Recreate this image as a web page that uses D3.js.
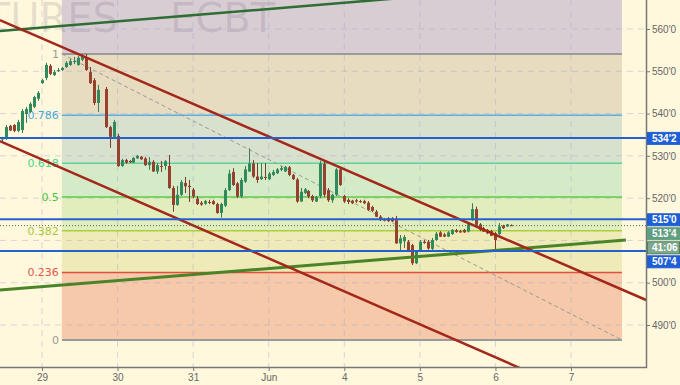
<!DOCTYPE html>
<meta charset='utf-8'>
<style>
    body { margin: 0; background: #fff8dc; }
    svg { display: block; }
    .axis text { font: 10px 'Liberation Sans', Arial, sans-serif; fill: #666; }
    .axis line { stroke: #777; }
    .fib-label { font: 11px 'DejaVu Sans', sans-serif; text-anchor: end; }
    .tag text { font: bold 10px 'Liberation Sans', Arial, sans-serif; fill: #fff; }
</style>
<body>
<script src='https://d3js.org/d3.v7.min.js'></script>
<script>
// x axis: bar number of each day start, 19 hourly bars a day
const dayLabels = [ '29', '30', '31', 'Jun', '4', '5', '6', '7' ];
const dayBars = [ 10, 29, 48, 67, 86, 105, 124, 143 ];
const priceTicks = [ 560, 550, 540, 530, 520, 510, 500, 490 ];

// hourly candles [open, high, low, close], bar 0 at the left edge
const candles = [
    [534.0,534.5,533.3,534.1],[534.2,537.3,533.8,536.8],[537.1,537.3,535.9,536.0],[537.3,537.5,535.6,535.9],
    [535.9,538.5,535.6,538.0],[536.1,541.1,535.4,540.6],[539.9,541.6,537.8,541.1],[540.4,542.7,540.1,542.3],
    [541.6,544.2,541.3,543.9],[543.5,545.3,543.0,544.9],
    [547.2,548.2,547.0,547.9],[548.4,552.0,547.9,551.5],[551.3,551.7,549.1,549.4],[549.1,550.3,548.9,549.8],
    [550.1,550.8,549.8,550.3],[550.3,551.0,550.1,550.8],[551.0,552.4,550.8,552.0],[551.5,552.9,551.3,552.4],
    [552.2,553.4,551.7,552.4],[551.5,553.6,551.3,553.2],
    [552.7,554.1,552.4,553.4],[553.2,554.1,550.1,550.3],[549.8,551.0,547.0,547.2],[547.9,548.4,542.0,542.5],
    [542.5,546.8,540.4,545.6],null,[545.8,546.3,536.6,536.8],[536.8,537.1,531.9,534.5],
    [534.5,538.5,534.2,538.0],[534.7,535.2,527.4,527.6],
    [527.6,529.3,527.4,529.0],[529.0,529.3,528.1,528.4],[528.8,529.0,528.3,528.5],[528.4,529.7,528.3,529.5],
    [529.4,530.2,529.3,530.0],[529.8,530.0,529.0,529.2],[529.4,529.7,527.6,527.8],[527.8,529.7,526.7,528.6],
    [528.6,529.0,526.2,526.3],[526.3,528.3,525.7,527.8],
    [527.6,528.8,526.2,527.5],[527.6,529.0,526.7,528.7],[527.6,530.2,522.2,522.4],[522.4,522.9,516.8,518.4],
    [518.4,522.9,518.2,520.8],[520.8,524.3,520.5,523.8],[523.6,525.0,521.2,522.8],[522.9,524.3,519.1,522.6],
    [522.0,522.4,520.0,520.4],[519.9,520.5,518.4,518.6],
    [518.9,519.3,518.2,518.5],[518.7,519.6,518.4,519.3],[519.1,519.6,518.6,518.9],[519.3,519.6,518.4,518.6],
    [518.6,518.9,516.3,516.5],[516.5,518.9,515.4,518.6],[518.2,522.4,517.9,521.9],[521.9,526.7,521.7,525.8],
    [526.2,527.1,522.9,523.1],[523.5,523.8,520.0,520.4],
    [520.4,524.8,520.0,524.3],[523.9,527.6,523.6,526.8],[526.3,531.8,526.2,528.2],[528.2,529.0,524.8,525.1],
    [525.1,528.3,523.6,524.3],[524.5,528.3,524.3,525.1],[525.0,528.3,524.3,524.8],[524.5,526.2,524.3,525.8],
    [525.5,526.7,525.2,526.2],[525.9,527.1,525.7,526.8],
    [526.7,527.6,526.4,527.1],[526.3,527.6,526.2,527.4],[527.3,527.6,525.2,525.5],[525.5,525.7,524.3,524.5],
    [524.4,524.8,518.9,519.2],[519.2,522.4,519.1,521.5],[521.2,522.4,521.0,522.1],[521.7,521.9,520.0,520.4],
    [520.5,520.8,519.1,519.5],[519.2,520.5,519.1,520.3],
    [520.5,528.8,520.0,528.2],[528.1,528.6,520.3,520.8],[521.9,522.4,519.1,519.5],[519.5,521.0,518.9,520.8],
    [520.8,527.1,520.5,526.8],[526.8,527.1,522.9,523.1],[520.5,520.8,518.9,519.2],[519.6,520.0,518.6,519.1],
    [519.4,519.6,518.6,518.8],[519.5,519.8,518.9,519.2],
    [519.3,519.6,518.9,519.1],[519.3,519.6,518.6,518.8],[518.9,519.3,517.0,517.2],[517.9,518.2,516.7,517.0],
    [516.8,517.2,515.5,515.6],[515.6,516.0,514.6,514.8],[515.0,515.3,514.5,514.7],[515.3,515.5,514.4,514.6],
    [515.2,515.5,514.4,514.5],[514.8,515.8,509.2,509.3],
    [509.3,511.3,507.3,510.5],[509.8,511.3,508.2,510.8],[509.7,510.1,507.5,507.7],[508.9,509.2,504.2,504.6],
    [504.6,507.7,504.4,507.5],[507.7,510.1,507.5,509.7],[509.7,510.1,509.2,509.4],[509.7,510.1,507.8,508.1],
    [508.0,510.6,507.7,510.1],[510.1,512.0,509.9,511.6],
    [511.9,512.2,510.8,510.9],[511.4,511.8,510.8,510.9],[510.9,512.2,510.8,511.9],[511.5,512.7,511.3,512.5],
    [512.4,512.7,511.8,512.0],[512.2,512.5,511.8,511.9],[512.5,512.7,511.8,511.9],[512.1,514.4,511.9,513.8],
    [514.8,518.8,514.6,517.4],[517.4,518.0,513.4,513.7],
    [513.8,514.1,512.2,512.5],[512.9,513.2,512.0,512.1],[512.5,512.7,511.5,511.7],[512.2,512.5,511.0,511.1],
    [511.7,512.0,507.7,510.1],[511.5,514.1,511.3,513.3],[513.5,513.7,512.7,512.9],[513.3,513.9,513.2,513.8],
    [513.6,513.8,513.4,513.5]
];

// fibonacci retracement: anchors [bar, price]
const fibStart = [ 15.0, 554.1 ];
const fibEnd = [ 155.8, 486.45 ];
const fibLevels = [ 1, 0.786, 0.618, 0.5, 0.382, 0.236, 0 ];
const fibLabels = [ '1', '0.786', '0.618', '0.5', '0.382', '0.236', '0' ];
const fibLineColors = [ '#9a9a9a', '#5ab0e0', '#5fd29a', '#5ccb48', '#a9cf3e', '#e0503c', '#9a9a9a' ];
const fibTextColors = [ '#999', '#49a7df', '#3fd58b', '#45c83a', '#a6c93a', '#e2584a', '#999' ];
// zone above each level (first one is above level 1)
const fibZoneColors = [ '#d8cdd3', '#e8dcc0', '#d8e1cd', '#d5ebc7', '#e1edbc', '#eeebb9', '#f5c9a9' ];

// horizontal levels and last price
const levelPrices = [ 534.25, 515, 507.5 ];
const lastPrice = 513.5;
const countdown = '41:06';

// trend lines [[bar, price], [bar, price]]
const trendLines = [
    { pts: [ [ -0.6, 559.5 ], [ 161.9, 572.1 ] ], color: '#2e6d34', width: 2.5 },
    { pts: [ [ -0.6, 498.3 ], [ 156.8, 510.1 ] ], color: '#4a8427', width: 3 },
    { pts: [ [ -0.6, 562.1 ], [ 161.9, 495.9 ] ], color: '#a3271a', width: 2.5 },
    { pts: [ [ -0.6, 533.5 ], [ 130.2, 479.8 ] ], color: '#a3271a', width: 2.5 }
];

const W = 680, H = 385, plotW = 646, plotH = 367;

const x = d3.scaleLinear().domain( [ 10, 143 ] ).range( [ 42, 571 ] );
const y = d3.scaleLinear().domain( [ 490, 560 ] ).range( [ 325, 29 ] );

const fmtPrice = p => Math.floor( p ) + "'" + Math.round( ( p - Math.floor( p ) ) * 8 );

const svg = d3.select( 'body' ).append( 'svg' )
    .attr( 'width', W )
    .attr( 'height', H );

svg.append( 'rect' ).attr( 'width', W ).attr( 'height', H ).attr( 'fill', '#fff8dc' );

svg.append( 'clipPath' ).attr( 'id', 'plot' )
    .append( 'rect' ).attr( 'width', plotW ).attr( 'height', plotH );

const plot = svg.append( 'g' ).attr( 'clip-path', 'url(#plot)' );

// Fib zones
const fibPrice = l => fibEnd[ 1 ] + l * ( fibStart[ 1 ] - fibEnd[ 1 ] );
const fx0 = x( fibStart[ 0 ] ), fx1 = x( fibEnd[ 0 ] );
plot.selectAll( '.zone' )
    .data( fibLevels )
    .enter().append( 'rect' )
        .attr( 'class', 'zone' )
        .attr( 'x', fx0 )
        .attr( 'width', fx1 - fx0 )
        .attr( 'y', ( d, i ) => i === 0 ? -10 : y( fibPrice( fibLevels[ i - 1 ] ) ) )
        .attr( 'height', ( d, i ) => y( fibPrice( d ) ) - ( i === 0 ? -10 : y( fibPrice( fibLevels[ i - 1 ] ) ) ) )
        .attr( 'fill', ( d, i ) => fibZoneColors[ i ] );

// Watermark
plot.append( 'text' )
    .attr( 'x', 118 ).attr( 'y', 32 )
    .attr( 'text-anchor', 'end' )
    .style( 'font', '40px "DejaVu Sans", sans-serif' )
    .attr( 'fill', '#5a5070' ).attr( 'fill-opacity', 0.16 )
    .text( 'FUTURES' );
plot.append( 'text' )
    .attr( 'x', 170 ).attr( 'y', 32 )
    .style( 'font', '40px "DejaVu Sans", sans-serif' )
    .attr( 'fill', '#5a5070' ).attr( 'fill-opacity', 0.16 )
    .text( 'ECBT' );

// Grid
plot.selectAll( '.hgrid' )
    .data( priceTicks )
    .enter().append( 'line' )
        .attr( 'x1', 0 ).attr( 'x2', plotW )
        .attr( 'y1', d => y( d ) ).attr( 'y2', d => y( d ) )
        .attr( 'stroke', '#a8a8d0' ).attr( 'stroke-opacity', 0.45 )
        .attr( 'stroke-dasharray', '6,5' );
plot.selectAll( '.vgrid' )
    .data( dayBars )
    .enter().append( 'line' )
        .attr( 'x1', d => x( d ) ).attr( 'x2', d => x( d ) )
        .attr( 'y1', 0 ).attr( 'y2', plotH )
        .attr( 'stroke', '#a8a8d0' ).attr( 'stroke-opacity', 0.45 )
        .attr( 'stroke-dasharray', '6,5' );

// Fib lines
plot.selectAll( '.fib' )
    .data( fibLevels )
    .enter().append( 'line' )
        .attr( 'x1', fx0 ).attr( 'x2', fx1 )
        .attr( 'y1', d => y( fibPrice( d ) ) ).attr( 'y2', d => y( fibPrice( d ) ) )
        .attr( 'stroke', ( d, i ) => fibLineColors[ i ] )
        .attr( 'stroke-width', ( d, i ) => ( i === 0 || i === 6 ) ? 2 : 1.5 );

plot.selectAll( '.fib-label' )
    .data( fibLevels )
    .enter().append( 'text' )
        .attr( 'class', 'fib-label' )
        .attr( 'x', fx0 - 3 )
        .attr( 'y', d => y( fibPrice( d ) ) )
        .attr( 'dy', '0.36em' )
        .attr( 'fill', ( d, i ) => fibTextColors[ i ] )
        .text( ( d, i ) => fibLabels[ i ] );

plot.append( 'line' )
    .attr( 'x1', x( fibStart[ 0 ] ) ).attr( 'y1', y( fibStart[ 1 ] ) )
    .attr( 'x2', x( fibEnd[ 0 ] ) ).attr( 'y2', y( fibEnd[ 1 ] ) )
    .attr( 'stroke', '#999' ).attr( 'stroke-dasharray', '4,3' );

// Candles
const bars = candles.map( ( c, i ) => c && { i, o: c[ 0 ], h: c[ 1 ], l: c[ 2 ], c: c[ 3 ] } ).filter( d => d );
const up = '#2f8a5c', down = '#98402e';

const candle = plot.selectAll( '.candle' )
    .data( bars )
    .enter().append( 'g' )
        .attr( 'class', 'candle' );

candle.append( 'line' )
    .attr( 'x1', d => Math.round( x( d.i ) ) + 0.5 ).attr( 'x2', d => Math.round( x( d.i ) ) + 0.5 )
    .attr( 'y1', d => y( d.h ) ).attr( 'y2', d => y( d.l ) )
    .attr( 'stroke', d => d.c >= d.o ? '#3d7a58' : '#7d3a2c' );

candle.append( 'rect' )
    .attr( 'x', d => Math.round( x( d.i ) ) - 1 )
    .attr( 'width', 3 )
    .attr( 'y', d => y( Math.max( d.o, d.c ) ) )
    .attr( 'height', d => Math.max( 1, Math.abs( y( d.o ) - y( d.c ) ) ) )
    .attr( 'fill', d => d.c >= d.o ? up : down );

// Trend lines
plot.selectAll( '.trend' )
    .data( trendLines )
    .enter().append( 'line' )
        .attr( 'x1', d => x( d.pts[ 0 ][ 0 ] ) ).attr( 'y1', d => y( d.pts[ 0 ][ 1 ] ) )
        .attr( 'x2', d => x( d.pts[ 1 ][ 0 ] ) ).attr( 'y2', d => y( d.pts[ 1 ][ 1 ] ) )
        .attr( 'stroke', d => d.color )
        .attr( 'stroke-width', d => d.width );

// Horizontal levels
plot.selectAll( '.level' )
    .data( levelPrices )
    .enter().append( 'line' )
        .attr( 'x1', 0 ).attr( 'x2', plotW )
        .attr( 'y1', d => y( d ) ).attr( 'y2', d => y( d ) )
        .attr( 'stroke', '#2560d0' ).attr( 'stroke-width', 2 );

plot.append( 'line' )
    .attr( 'x1', 0 ).attr( 'x2', plotW )
    .attr( 'y1', y( lastPrice ) ).attr( 'y2', y( lastPrice ) )
    .attr( 'stroke', '#3c6e52' ).attr( 'stroke-dasharray', '1,2' );

// Price tags, pushed apart so they do not overlap
const tags = [
    { p: 534.25, text: fmtPrice( 534.25 ), fill: '#1f5fd6', stroke: '#1f5fd6' },
    { p: 515, text: fmtPrice( 515 ), fill: '#1f5fd6', stroke: '#1f5fd6' },
    { p: lastPrice, text: fmtPrice( lastPrice ), fill: '#5f9e7e', stroke: '#5f9e7e' },
    { p: lastPrice, text: countdown, fill: '#7fa88d', stroke: '#4f7f60', after: true },
    { p: 507.5, text: fmtPrice( 507.5 ), fill: '#1f5fd6', stroke: '#1f5fd6' }
];
const tagH = 12, gap = 2;
let prevBottom = -Infinity;
tags.forEach( t => {
    let top = t.after ? prevBottom + gap : y( t.p ) - tagH / 2;
    if ( top < prevBottom + gap ) top = prevBottom + gap;
    t.top = top;
    prevBottom = top + tagH;
} );

// tick labels hidden under a tag are left out
const freeTicks = priceTicks.filter( p => !tags.some( t => y( p ) > t.top - 6 && y( p ) < t.top + tagH + 6 ) );

// Axes
const xAxis = svg.append( 'g' )
    .attr( 'class', 'axis' )
    .attr( 'transform', `translate( 0, ${plotH} )` )
    .call( d3.axisBottom( x ).tickValues( dayBars ).tickFormat( ( d, i ) => dayLabels[ i ] ).tickSize( 4 ).tickPadding( 3 ) );
xAxis.select( '.domain' ).remove();

const yAxis = svg.append( 'g' )
    .attr( 'class', 'axis' )
    .attr( 'transform', `translate( ${plotW}, 0 )` )
    .call( d3.axisRight( y ).tickValues( freeTicks ).tickFormat( fmtPrice ).tickSize( 4 ).tickPadding( 2 ) );
yAxis.select( '.domain' ).remove();

svg.append( 'path' )
    .attr( 'd', `M0,${plotH + 0.5}H${plotW + 0.5}V0` )
    .attr( 'fill', 'none' )
    .attr( 'stroke', '#777' )
    .attr( 'stroke-width', 1.5 );

const tag = svg.selectAll( '.tag' )
    .data( tags )
    .enter().append( 'g' )
        .attr( 'class', 'tag' )
        .attr( 'transform', d => `translate( ${plotW + 1}, ${d.top} )` );
tag.append( 'rect' )
    .attr( 'x', 0.5 ).attr( 'y', 0.5 )
    .attr( 'width', W - plotW - 2 ).attr( 'height', tagH )
    .attr( 'fill', d => d.fill ).attr( 'stroke', d => d.stroke );
tag.append( 'text' )
    .attr( 'x', 5 ).attr( 'y', tagH / 2 + 0.5 )
    .attr( 'dy', '0.36em' )
    .text( d => d.text );
</script>
</body>
